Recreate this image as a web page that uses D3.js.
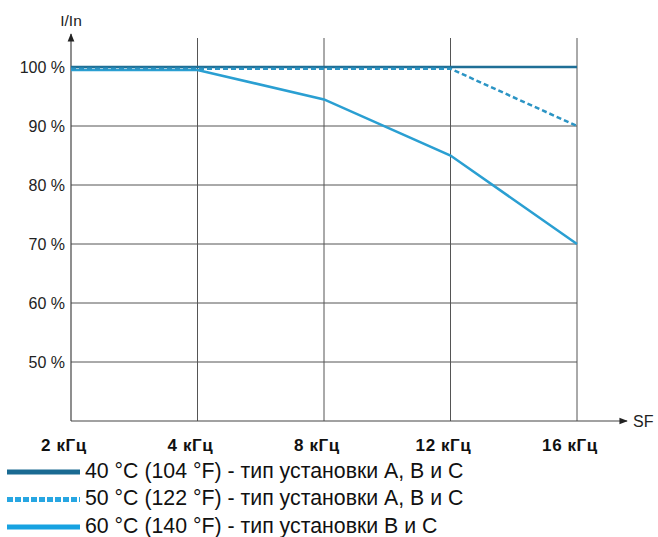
<!DOCTYPE html>
<html>
<head>
<meta charset="utf-8">
<script src="https://cdn.jsdelivr.net/npm/d3@7"></script>
<style>
  body { margin: 0; background: #fff; }
  text { font-family: "Liberation Sans", Arial, sans-serif; }
</style>
</head>
<body>
<div id="graphContainer"></div>
<script>
// частоти комутації та значення струму, %
let freqs = ["2 кГц", "4 кГц", "8 кГц", "12 кГц", "16 кГц"];
let yTicks = [50, 60, 70, 80, 90, 100];
let t40 = [100, 100, 100, 100, 100];
let t50 = [99.7, 99.7, 99.7, 99.7, 90];
let t60 = [99.5, 99.5, 94.5, 85, 70];
let legendLabels = [
    "40 °C (104 °F) - тип установки A, B и C",
    "50 °C (122 °F) - тип установки A, B и C",
    "60 °C (140 °F) - тип установки B и C"
];

function add(){
    let width = 658;
    let height = 537;
    let svg = d3.select("#graphContainer").append("svg")
        .attr("width", width)
        .attr("height", height);
    return {svg, height, width};
}

function draw(){
    let { svg } = add();

    let x = d3.scalePoint().domain(freqs).range([71, 577]);
    let y = d3.scaleLinear().domain([40, 100]).range([421, 67]);
    let top = 38;

    // сітка
    svg.selectAll(null)
        .data(yTicks)
        .enter().append("line")
        .attr("x1", 71).attr("x2", 577)
        .attr("y1", d => y(d)).attr("y2", d => y(d))
        .attr("stroke", "#555").attr("stroke-width", 1);

    svg.selectAll(null)
        .data(freqs.slice(1))
        .enter().append("line")
        .attr("x1", d => x(d)).attr("x2", d => x(d))
        .attr("y1", top).attr("y2", 421)
        .attr("stroke", "#555").attr("stroke-width", 1);

    // осі
    svg.append("defs").append("marker")
        .attr("id", "arr")
        .attr("viewBox", "0 0 10 10")
        .attr("refX", 9).attr("refY", 5)
        .attr("markerWidth", 7).attr("markerHeight", 7)
        .attr("orient", "auto")
        .append("path").attr("d", "M0,1 L10,5 L0,9 Z").attr("fill", "#222");

    svg.append("line")
        .attr("x1", 71).attr("x2", 71)
        .attr("y1", 421).attr("y2", 34)
        .attr("stroke", "#444").attr("stroke-width", 1.2)
        .attr("marker-end", "url(#arr)");

    svg.append("line")
        .attr("x1", 71).attr("x2", 627)
        .attr("y1", 421).attr("y2", 421)
        .attr("stroke", "#444").attr("stroke-width", 1.2)
        .attr("marker-end", "url(#arr)");

    svg.append("text")
        .attr("x", 71).attr("y", 26)
        .attr("text-anchor", "middle")
        .attr("font-size", 15.5).attr("fill", "#222")
        .text("I/In");

    svg.append("text")
        .attr("x", 633).attr("y", 427)
        .attr("font-size", 16).attr("fill", "#222")
        .text("SF");

    svg.selectAll(null)
        .data(yTicks)
        .enter().append("text")
        .attr("x", 65).attr("y", d => y(d) + 5.5)
        .attr("text-anchor", "end")
        .attr("font-size", 16).attr("fill", "#222")
        .text(d => d + " %");

    svg.selectAll(null)
        .data(freqs)
        .enter().append("text")
        .attr("x", d => x(d) - 7).attr("y", 451)
        .attr("text-anchor", "middle")
        .attr("font-size", 17).attr("font-weight", "bold").attr("fill", "#111")
        .attr("letter-spacing", 0.6)
        .text(d => d);

    // криві
    let line = d3.line()
        .x((d, i) => x(freqs[i]))
        .y(d => y(d));

    let series = [
        { v: t60, color: "#2a9fd2", dash: null },
        { v: t40, color: "#1f6f96", dash: null },
        { v: t50, color: "#2b94c4", dash: "5,3" }
    ];

    svg.selectAll(null)
        .data(series)
        .enter().append("path")
        .attr("d", d => line(d.v))
        .attr("fill", "none")
        .attr("stroke", d => d.color)
        .attr("stroke-width", 2.5)
        .attr("stroke-dasharray", d => d.dash);

    // легенда
    let leg = [
        { color: "#1a6a92", dash: null },
        { color: "#27a6e2", dash: "6,2" },
        { color: "#17a2e1", dash: null }
    ];
    let g = svg.selectAll(null)
        .data(legendLabels)
        .enter().append("g")
        .attr("transform", (d, i) => "translate(0," + (472 + i * 27.5) + ")");

    g.append("line")
        .attr("x1", 7).attr("x2", 80)
        .attr("y1", 0).attr("y2", 0)
        .attr("stroke", (d, i) => leg[i].color)
        .attr("stroke-width", 5)
        .attr("stroke-dasharray", (d, i) => leg[i].dash);

    g.append("text")
        .attr("x", 85).attr("y", 5.5)
        .attr("font-size", 21.3).attr("fill", "#111")
        .text(d => d);
}

draw();
</script>
</body>
</html>
